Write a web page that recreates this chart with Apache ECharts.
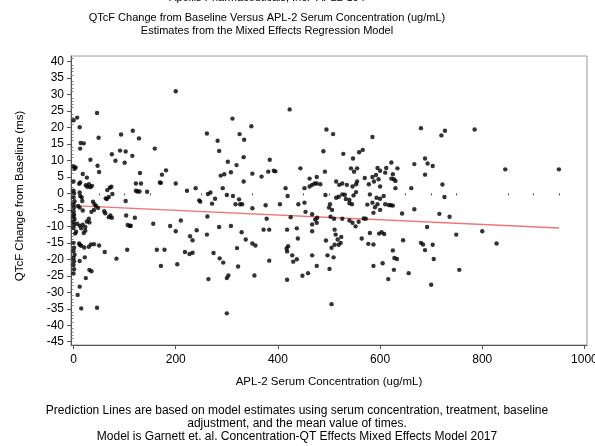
<!DOCTYPE html>
<html>
<head>
<meta charset="utf-8">
<script src="https://cdn.jsdelivr.net/npm/echarts@6/dist/echarts.min.js"></script>
<style>html,body{margin:0;padding:0;background:#fff;}#chart{width:595px;height:446px;}</style>
</head>
<body>
<div id="chart"></div>
<script>
// APL-2 serum concentration (ug/mL)
const concentration = [
0,0,2,4,0,0,1,0,2,0,1,0,1,0,2,0,1,0,3,5,0,1,0,2,0,1,0,1,0,
7,12,14,20,13,33,18,26,11,13,24,27,30,33,36,46,49,47,50,12,13,16,17,9,12,18,38,41,44,48,35,40,30,26,31,7,12,15,18,23,20,23,11,12,15,21,30,34,40,50,22,12,31,35,24,12,8,15,46,
63,66,71,74,76,69,72,61,84,75,60,62,65,69,75,82,91,93,102,100,116,115,128,130,102,103,106,110,112,120,105,122,122,125,129,132,
144,156,163,178,171,169,159,171,173,181,189,200,200,200,203,210,218,227,233,222,228,233,239,241,246,248,261,268,282,285,261,264,274,286,293,300,303,300,308,311,325,302,319,288,295,308,317,320,322,263,271,277,292,300,285,262,
334,348,333,350,368,384,381,392,395,423,444,333,312,324,326,330,350,329,337,350,356,354,383,372,383,378,376,404,415,419,425,418,437,439,417,418,420,428,437,430,418,448,459,440,452,
452,462,467,472,476,483,476,462,489,495,508,492,454,467,473,477,467,467,476,467,476,493,502,500,506,503,510,526,494,497,509,501,505,511,513,524,517,523,511,519,505,528,
514,520,526,535,546,555,553,514,519,526,533,531,540,548,553,547,559,566,585,543,555,549,
570,595,585,592,600,610,612,622,634,625,622,627,630,597,540,546,558,552,540,545,575,568,572,564,577,587,580,598,603,608,590,595,585,593,600,578,588,600,580,607,587,600,610,617,621,625,630,643,645,625,628,633,605,627,616,587,656,
680,727,720,785,688,693,703,667,688,845,950,661,722,726,667,716,736,692,749,800,680,684,688,703,828,705,755,700
];
// QTcF change from baseline (ms)
const qtcfChange = [
22.2,8.2,7.5,7.9,3.6,0.8,0.0,-1.2,-2.4,-3.3,-4.3,-5.4,-6.4,-7.1,-7.8,-8.6,-9.5,-10.5,-12.2,-11.6,-15.0,-16.5,-17.5,-18.6,-19.6,-20.6,-21.7,-23.0,-24.3,
23.0,20.1,15.3,15.2,13.6,10.2,5.9,4.8,2.9,3.3,2.5,2.0,2.8,1.9,2.3,24.4,16.9,8.4,6.5,0.3,-0.8,-1.2,-2.3,-3.8,-4.3,-5.2,-2.5,-3.3,-3.8,-4.4,-5.6,-5.0,-7.7,-8.5,-8.8,-9.2,-9.8,-10.6,-9.5,-10.2,-12.0,-11.3,-15.2,-15.6,-15.9,-16.4,-16.2,-15.5,-15.4,-15.8,-19.4,-20.5,-23.2,-23.6,-25.7,-28.3,-30.8,-34.9,-34.7,
-1.5,1.0,1.7,2.0,-0.2,-7.2,-6.7,-17.8,-19.8,-7.4,-5.4,-6.0,-1.7,-1.1,11.9,9.9,13.0,17.9,12.7,9.3,19.0,11.4,16.7,6.2,-2.3,-6.7,-9.6,-9.9,-9.8,-7.4,-17.1,3.0,0.8,0.6,0.6,3.0,
0.5,-9.2,-17.1,-17.1,-22.0,3.3,13.6,3.2,5.7,7.0,-9.9,3.0,31.0,-11.5,-21.5,-8.2,-17.8,-18.4,-18.0,0.8,-13.0,-14.2,1.6,-11.2,-2.1,-2.5,18.2,0.3,16.0,12.9,-12.5,-26.0,-18.1,-19.7,-21.0,-25.7,-24.9,-36.4,-9.9,22.7,18.0,9.6,8.6,5.4,5.8,6.4,-3.3,-16.6,-22.2,-0.2,-3.1,-1.6,1.6,-0.5,-10.2,-7.0,
16.3,20.4,11.0,6.0,5.1,10.2,6.6,6.9,6.7,25.5,7.6,3.6,-0.8,-1.8,-3.3,-3.3,-4.5,-11.8,-14.0,-15.2,-15.8,-24.9,-20.4,-11.0,-11.0,-7.7,-3.6,-3.3,1.6,-0.8,-7.2,-11.0,-10.6,-13.7,-16.7,-17.6,-16.0,-18.8,-20.0,-20.7,-26.2,-25.0,-24.2,-3.3,-2.8,
1.6,2.1,2.6,3.0,3.0,2.8,5.0,4.5,12.8,19.4,18.0,6.6,-5.6,-6.3,-7.9,-7.4,-9.4,-11.5,-8.9,-18.8,-22.0,-0.5,-3.3,-4.3,-5.0,-7.1,-7.7,-7.7,-14.3,-18.8,-19.4,-22.9,-33.6,-11.0,-12.5,-13.2,-14.0,-15.0,-15.6,-15.6,-16.5,12.0,
3.6,2.6,3.0,2.6,2.1,3.6,2.8,-1.3,-1.0,-0.3,-1.7,-0.4,-2.0,-0.6,0.4,10.6,12.5,13.2,17.1,7.6,7.6,6.6,
4.7,7.7,5.0,5.6,6.9,6.3,7.7,9.4,7.6,5.8,4.5,4.3,3.8,4.3,-8.2,-8.9,-8.6,-10.0,-3.0,-3.3,-3.4,-7.6,-7.7,-13.7,-15.3,-15.5,-12.0,-12.2,-11.8,-12.3,-4.2,-3.3,-2.8,-1.3,-1.6,2.8,3.6,2.1,-0.3,-0.8,-5.9,-5.0,-3.3,-3.5,-3.6,-3.7,1.6,-6.1,-14.2,-17.3,-19.6,-19.9,-21.2,-23.2,-26.0,-22.0,-24.2,
19.8,19.0,17.6,19.4,10.6,9.1,8.3,8.9,5.7,7.3,7.3,1.6,2.7,-1.1,-4.8,-6.2,-7.1,-10.2,-12.5,-11.5,-15.0,-15.5,-17.2,-15.6,-15.2,-19.9,-23.2,-27.7
];
// prediction line end points
const predConc = [0, 950];
const predQtcf = [-3.7, -10.5];
// tick labels
const xTickLabels = [0, 200, 400, 600, 800, 1000];
const xMinorTicks = [50,100,150,250,300,350,450,500,550,650,700,750,850,900,950];
const yTickLabels = [-45,-40,-35,-30,-25,-20,-15,-10,-5,0,5,10,15,20,25,30,35,40];
const yMinorTicks = [];
for (let v = -46; v <= 41; v++) { if (v % 5 !== 0) yMinorTicks.push(v); }

const FONT = '"Liberation Sans", Arial, sans-serif';
const points = concentration.map((c, i) => [c, qtcfChange[i]]);
const predLine = predConc.map((c, i) => [c, predQtcf[i]]);

const chart = echarts.init(document.getElementById('chart'), null, {renderer: 'canvas'});
const axisColor = '#555';
chart.setOption({
  animation: false,
  backgroundColor: '#fff',
  grid: {left: 71, right: 8, top: 56, bottom: 101, show: true, borderColor: '#9a9a9a', borderWidth: 1, containLabel: false, outerBoundsMode: 'none'},
  xAxis: [
    {type: 'value', min: -5, max: 1005, position: 'bottom',
     axisLine: {show: true, onZero: false, lineStyle: {color: axisColor, width: 1}},
     splitLine: {show: false},
     axisTick: {show: true, customValues: xTickLabels, length: 4, lineStyle: {color: axisColor}},
     axisLabel: {customValues: xTickLabels, margin: 9, fontSize: 12, color: '#000', fontFamily: FONT,
                 formatter: v => String(v)}},
    {type: 'value', min: -5, max: 1005, position: 'bottom', offset: 0,
     axisLine: {show: false}, splitLine: {show: false},
     axisTick: {show: true, customValues: xMinorTicks, length: 2, lineStyle: {color: axisColor}},
     axisLabel: {show: false}}
  ],
  yAxis: [
    {type: 'value', min: -46, max: 41.7, position: 'left',
     axisLine: {show: true, onZero: false, lineStyle: {color: axisColor, width: 1}},
     splitLine: {show: false},
     axisTick: {show: true, customValues: yTickLabels, length: 4, lineStyle: {color: axisColor}},
     axisLabel: {customValues: yTickLabels, margin: 7, fontSize: 12, color: '#000', fontFamily: FONT,
                 formatter: v => String(v)}},
    {type: 'value', min: -46, max: 41.7, position: 'left', offset: 0,
     axisLine: {show: false}, splitLine: {show: false},
     axisTick: {show: true, customValues: yMinorTicks, length: 2, lineStyle: {color: '#888'}},
     axisLabel: {show: false}}
  ],
  series: [
    {type: 'line', xAxisIndex: 0, yAxisIndex: 0, data: predLine, showSymbol: false, symbol: 'none',
     lineStyle: {color: '#f47272', width: 1.4}, z: 2, silent: true},
    {type: 'scatter', xAxisIndex: 0, yAxisIndex: 0, data: points, symbol: 'circle', symbolSize: 4.4,
     itemStyle: {color: '#000'}, z: 3, silent: true}
  ],
  graphic: [
    {type: 'text', x: 267, y: -2.5, style: {text: 'Apellis Pharmaceuticals, Inc.  APL2-104', font: '11px ' + FONT, fill: '#000', align: 'center', verticalAlign: 'middle'}},
    {type: 'text', x: 267, y: 17.5, style: {text: 'QTcF Change from Baseline Versus APL-2 Serum Concentration (ug/mL)', font: '11px ' + FONT, fill: '#000', align: 'center', verticalAlign: 'middle'}},
    {type: 'text', x: 267, y: 31, style: {text: 'Estimates from the Mixed Effects Regression Model', font: '11px ' + FONT, fill: '#000', align: 'center', verticalAlign: 'middle'}},
    {type: 'text', x: 20, y: 196, rotation: Math.PI / 2, style: {text: 'QTcF Change from Baseline (ms)', font: '11.5px ' + FONT, fill: '#000', align: 'center', verticalAlign: 'middle'}},
    {type: 'text', x: 329, y: 382, style: {text: 'APL-2 Serum Concentration (ug/mL)', font: '11.5px ' + FONT, fill: '#000', align: 'center', verticalAlign: 'middle'}},
    {type: 'text', x: 297, y: 411, style: {text: 'Prediction Lines are based on model estimates using serum concentration, treatment, baseline', font: '12px ' + FONT, fill: '#000', align: 'center', verticalAlign: 'middle'}},
    {type: 'text', x: 297, y: 424, style: {text: 'adjustment, and the mean value of times.', font: '12px ' + FONT, fill: '#000', align: 'center', verticalAlign: 'middle'}},
    {type: 'text', x: 297, y: 437, style: {text: 'Model is Garnett et. al. Concentration-QT Effects Mixed Effects Model 2017', font: '12px ' + FONT, fill: '#000', align: 'center', verticalAlign: 'middle'}}
  ]
});
</script>
</body>
</html>
